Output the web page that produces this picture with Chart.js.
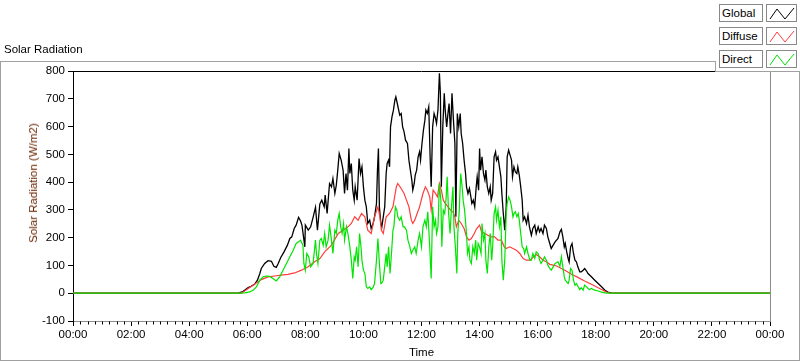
<!DOCTYPE html>
<html><head><meta charset="utf-8">
<script src="https://cdn.jsdelivr.net/npm/chart.js@4.4.1/dist/chart.umd.min.js"></script>
<style>
html,body{margin:0;padding:0;background:#fff;}
#wrap{position:relative;width:800px;height:361px;overflow:hidden;font-family:"Liberation Sans",Arial,sans-serif;}
#frame{position:absolute;left:0;top:61px;width:800px;height:300px;box-sizing:border-box;border:1px solid #a0a0a0;}
#c{position:absolute;left:0;top:0;}
#title{position:absolute;left:4px;top:43px;font-size:11.5px;color:#000;white-space:nowrap;}
#ytitle{position:absolute;left:33px;top:183px;transform:translate(-50%,-50%) rotate(-90deg);white-space:nowrap;font-size:11.5px;color:#6a2400;}
#legend{position:absolute;left:716px;top:0;width:84px;height:72px;background:#fff;}
#legcorner{position:absolute;left:715px;top:61px;width:85px;height:11px;box-sizing:border-box;border-left:1px solid #a0a0a0;border-bottom:1px solid #a0a0a0;}
.lab{position:absolute;left:3px;width:44px;height:18px;box-sizing:border-box;border:1px solid #888;font-size:11.5px;line-height:16px;padding-left:2px;white-space:nowrap;background:#fff;}
.sw{position:absolute;left:50px;width:31px;height:18px;box-sizing:border-box;border:1px solid #888;background:#fff;}
.sw svg{position:absolute;left:0;top:0;}
</style></head>
<body>
<div id="wrap">
  <div id="frame"></div>
  <canvas id="c" width="800" height="361"></canvas>
  <div id="title">Solar Radiation</div>
  <div id="ytitle">Solar Radiation (W/m2)</div>
  <div id="legend"></div>
  <div id="legcorner"></div>
</div>
<script>
// ---- data (minutes since midnight, W/m2) ----
const xTickLabels = ["00:00","02:00","04:00","06:00","08:00","10:00","12:00","14:00","16:00","18:00","20:00","22:00","00:00"];
const yTickValues = [-100,0,100,200,300,400,500,600,700,800];
const seriesNames = ["Global","Diffuse","Direct"];
const seriesColors = ["#000000","#ff3c3c","#00e400"];

const globalSeries = [[0,0],[341,0],[351,6],[362,20],[368,25],[375,32],[381,47],[386,71],[389,89],[396,107],[403,117],[410,115],[415,97],[420,93],[424,107],[429,128],[436,149],[443,173],[448,197],[452,203],[457,233],[461,245],[466,273],[470,261],[473,245],[479,167],[480,245],[486,227],[491,239],[496,273],[501,309],[505,227],[510,321],[514,335],[519,311],[521,353],[525,287],[530,395],[534,383],[537,413],[541,359],[544,389],[547,443],[550,503],[554,479],[558,443],[561,359],[564,431],[567,371],[570,521],[572,431],[575,467],[578,371],[581,335],[583,383],[587,335],[591,485],[594,431],[597,455],[600,383],[603,335],[606,311],[609,251],[613,263],[616,233],[620,251],[623,275],[627,323],[629,443],[631,521],[633,311],[636,251],[638,239],[641,275],[644,311],[647,431],[649,467],[652,479],[654,455],[656,599],[659,635],[662,659],[665,695],[667,707],[670,683],[675,641],[678,647],[681,599],[684,581],[687,551],[691,539],[694,479],[698,431],[700,407],[702,371],[705,395],[707,425],[710,443],[713,491],[716,509],[718,479],[721,539],[724,587],[727,623],[729,659],[732,647],[735,671],[738,479],[740,383],[743,599],[746,647],[749,629],[751,611],[754,659],[757,792],[759,720],[761,383],[764,599],[767,720],[769,659],[772,599],[775,653],[777,683],[780,575],[783,720],[786,623],[789,539],[791,275],[794,647],[797,599],[800,647],[802,575],[805,539],[808,479],[811,431],[813,383],[816,359],[819,377],[822,347],[824,323],[827,335],[830,311],[833,383],[835,419],[838,371],[840,521],[842,443],[845,491],[848,431],[851,407],[853,443],[856,383],[859,359],[862,383],[864,335],[867,359],[870,491],[873,509],[875,479],[878,491],[881,455],[884,419],[886,359],[889,287],[892,227],[895,311],[897,491],[900,515],[903,497],[906,479],[908,419],[911,455],[914,437],[917,431],[919,455],[922,425],[925,383],[928,335],[930,263],[933,275],[937,251],[940,281],[943,239],[947,209],[950,233],[954,245],[957,215],[961,239],[964,221],[967,233],[971,215],[974,245],[978,233],[981,203],[985,179],[988,161],[992,173],[996,185],[1002,197],[1006,221],[1009,230],[1012,203],[1015,167],[1017,179],[1020,149],[1023,125],[1025,113],[1028,167],[1031,179],[1034,143],[1037,119],[1040,113],[1043,95],[1047,77],[1050,77],[1054,83],[1057,89],[1061,80],[1064,71],[1071,59],[1078,47],[1085,35],[1092,23],[1099,11],[1105,4],[1112,1],[1120,0],[1440,0]];

const diffuseSeries = [[0,0],[348,0],[362,17],[375,32],[389,49],[403,59],[417,62],[430,65],[444,68],[458,73],[472,83],[486,95],[499,113],[510,125],[520,149],[534,173],[548,215],[558,227],[568,239],[575,251],[582,275],[589,263],[596,287],[603,275],[609,227],[616,215],[623,275],[630,311],[634,275],[637,227],[641,215],[647,275],[654,287],[661,311],[668,383],[671,395],[678,377],[684,359],[689,335],[694,311],[699,263],[702,251],[706,263],[711,287],[716,311],[723,359],[728,383],[732,371],[737,347],[740,299],[744,371],[749,359],[753,347],[757,395],[761,371],[765,335],[769,323],[775,311],[780,299],[785,292],[789,275],[792,239],[797,263],[802,251],[808,233],[813,203],[818,191],[823,197],[829,215],[834,233],[840,245],[844,221],[851,215],[857,209],[864,203],[871,203],[878,191],[885,191],[891,167],[895,161],[902,167],[909,161],[916,155],[923,143],[930,125],[937,119],[944,119],[950,128],[957,139],[964,131],[971,119],[978,113],[985,104],[992,101],[999,98],[1002,95],[1016,83],[1030,68],[1043,57],[1057,44],[1071,32],[1085,20],[1095,11],[1102,4],[1110,0],[1440,0]];

const directSeries = [[0,0],[344,0],[355,1],[365,5],[372,11],[379,23],[386,47],[393,59],[399,62],[406,61],[413,53],[420,44],[427,59],[434,83],[441,107],[448,131],[455,155],[461,179],[466,185],[470,191],[475,173],[477,107],[480,83],[483,143],[487,131],[491,95],[496,107],[501,191],[503,143],[506,107],[510,191],[513,197],[517,173],[520,215],[523,167],[527,191],[530,245],[534,191],[537,143],[541,227],[544,215],[547,263],[550,287],[553,239],[556,215],[559,251],[561,191],[565,239],[568,215],[572,167],[575,119],[578,53],[581,131],[583,119],[586,167],[589,95],[592,215],[595,167],[597,119],[600,83],[603,71],[606,23],[609,17],[613,23],[616,13],[620,21],[623,35],[627,119],[630,197],[633,107],[636,35],[638,37],[641,47],[644,95],[647,143],[649,95],[652,167],[655,71],[658,143],[661,227],[663,239],[666,311],[669,299],[671,275],[675,263],[678,275],[682,239],[685,239],[689,227],[692,191],[696,167],[699,143],[702,155],[706,167],[709,143],[713,191],[716,215],[720,167],[723,239],[727,263],[730,239],[733,293],[737,167],[740,53],[743,311],[746,239],[749,263],[751,215],[754,239],[757,395],[760,335],[762,167],[765,299],[768,287],[771,347],[773,419],[776,287],[779,215],[782,311],[785,383],[787,239],[790,167],[793,71],[795,215],[798,299],[801,431],[804,383],[806,335],[809,299],[813,215],[815,143],[818,167],[820,119],[823,107],[826,167],[829,143],[832,191],[834,119],[837,179],[840,167],[843,143],[845,251],[848,191],[851,215],[853,119],[856,71],[859,167],[862,215],[865,119],[867,167],[870,287],[873,311],[875,263],[878,299],[881,239],[884,275],[886,119],[889,47],[892,119],[895,287],[897,323],[900,347],[903,335],[906,311],[909,275],[911,287],[914,293],[917,275],[920,287],[922,263],[925,215],[928,167],[931,161],[933,143],[937,167],[940,143],[944,119],[947,119],[950,143],[954,125],[957,149],[961,143],[964,119],[967,107],[971,119],[974,131],[978,119],[981,101],[985,89],[988,83],[992,95],[996,107],[1002,113],[1006,97],[1009,131],[1012,95],[1015,59],[1017,47],[1020,41],[1023,35],[1025,47],[1028,89],[1031,83],[1034,47],[1037,29],[1040,35],[1043,25],[1047,13],[1050,20],[1054,11],[1057,29],[1061,23],[1064,17],[1067,13],[1071,17],[1078,11],[1085,8],[1092,4],[1099,1],[1105,0],[1440,0]];

// ---- legend (HTML) ----
const leg = document.getElementById('legend');
seriesNames.forEach((n,i)=>{
  const top = 4 + i*23;
  const l = document.createElement('div'); l.className='lab'; l.style.top=top+'px'; l.textContent=n; leg.appendChild(l);
  const s = document.createElement('div'); s.className='sw'; s.style.top=top+'px';
  s.innerHTML='<svg width="31" height="18"><polyline points="3,14 10,4 18,14 27,3" fill="none" stroke="'+seriesColors[i]+'" stroke-width="1"/></svg>';
  leg.appendChild(s);
});

const toXY = arr => arr.map(p=>({x:p[0], y:p[1]}));
const FONT = {family:'"Liberation Sans", Arial, sans-serif', size:11.5};

const minorTicks = {
  id:'minorTicks',
  afterDraw(chart){
    const xs = chart.scales.x, ca = chart.chartArea, ctx = chart.ctx;
    ctx.save();
    ctx.strokeStyle = '#000'; ctx.lineWidth = 1;
    ctx.beginPath();
    for(let m=0;m<=1440;m+=15){
      if(m%120===0) continue;
      const px = Math.round(xs.getPixelForValue(m))+0.5;
      ctx.moveTo(px, ca.bottom+0.5); ctx.lineTo(px, ca.bottom+3.5);
    }
    ctx.stroke();
    ctx.beginPath(); ctx.strokeStyle='#000';
    ctx.moveTo(ca.left, Math.round(ca.top)+0.5); ctx.lineTo(ca.right, Math.round(ca.top)+0.5); ctx.stroke();
    ctx.beginPath(); ctx.strokeStyle='#8c8c8c';
    ctx.moveTo(Math.round(ca.right)+0.5, ca.top); ctx.lineTo(Math.round(ca.right)+0.5, ca.bottom); ctx.stroke();
    ctx.restore();
  }
};

new Chart(document.getElementById('c'), {
  type:'line',
  data:{ datasets:[
    {label:seriesNames[0], data:toXY(globalSeries), borderColor:seriesColors[0], borderWidth:1.3, order:3},
    {label:seriesNames[1], data:toXY(diffuseSeries), borderColor:seriesColors[1], borderWidth:1.2, order:2},
    {label:seriesNames[2], data:toXY(directSeries), borderColor:seriesColors[2], borderWidth:1.2, order:1}
  ]},
  options:{
    responsive:false, animation:false, devicePixelRatio:1,
    layout:{padding:{left:0, top:71, right:30, bottom:0}},
    elements:{ line:{borderWidth:1, tension:0}, point:{radius:0} },
    plugins:{ legend:{display:false}, tooltip:{enabled:false} },
    scales:{
      x:{ type:'linear', min:0, max:1440,
        afterFit(s){ s.height = 40; },
        border:{display:true, color:'#8c8c8c'},
        grid:{drawOnChartArea:false, drawTicks:true, tickLength:5, color:'#000'},
        ticks:{stepSize:120, autoSkip:false, maxRotation:0, padding:2, color:'#000', font:FONT,
          callback:(v)=> xTickLabels[Math.round(v/120)] },
        title:{display:true, text:'Time', color:'#000', font:FONT, padding:{top:0,bottom:1}}
      },
      y:{ min:yTickValues[0], max:yTickValues[yTickValues.length-1],
        afterFit(s){ s.width = 73; },
        border:{display:true, color:'#000'},
        grid:{drawOnChartArea:false, drawTicks:true, tickLength:5, color:'#000'},
        ticks:{stepSize:100, autoSkip:false, padding:3, color:'#000', font:FONT}
      }
    }
  },
  plugins:[minorTicks]
});
</script>
</body></html>
